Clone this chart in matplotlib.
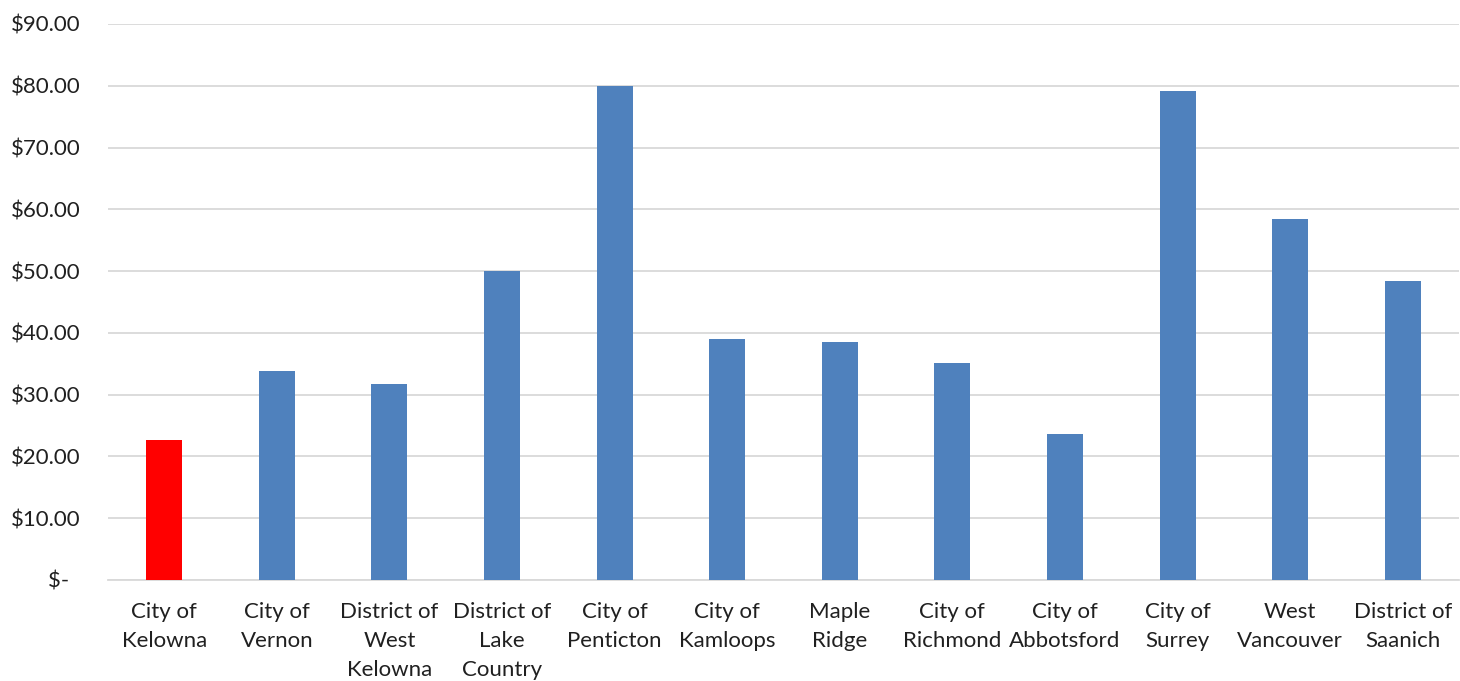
import numpy as np
import matplotlib.pyplot as plt
from matplotlib.ticker import FuncFormatter

plt.rcParams['font.family'] = ['Lato', 'DejaVu Sans']

# data
places = ['City of\nKelowna', 'City of\nVernon', 'District of\nWest\nKelowna',
          'District of\nLake\nCountry', 'City of\nPenticton', 'City of\nKamloops',
          'Maple\nRidge', 'City of\nRichmond', 'City of\nAbbotsford',
          'City of\nSurrey', 'West\nVancouver', 'District of\nSaanich']
cost = [22.7, 33.9, 31.7, 50.0, 80.0, 39.0, 38.5, 35.1, 23.6, 79.1, 58.4, 48.4]
highlight = 'City of\nKelowna'

colors = ['#FF0000' if p == highlight else '#4F81BD' for p in places]

fig = plt.figure(figsize=(14.6, 6.81), dpi=100)
ax = fig.add_axes([108/1460, 1 - 580/681, 1351/1460, 556/681])

x = np.arange(len(places))
ax.bar(x, cost, width=0.32, color=colors, zorder=3)

ax.set_xlim(-0.5, len(places) - 0.5)
ax.set_ylim(0, 90)
ax.set_yticks(np.arange(0, 91, 10))

def money(v, pos):
    if v == 0:
        return '$-  '
    return '${:.2f}'.format(v)

ax.yaxis.set_major_formatter(FuncFormatter(money))
ax.grid(axis='y', color='#D9D9D9', linewidth=1.3, zorder=0)
ax.set_xticks(x)
ax.set_xticklabels(places, fontsize=16, color='#202020', linespacing=1.55)
ax.tick_params(axis='y', labelsize=16, labelcolor='#202020', length=0, pad=20)
ax.tick_params(axis='x', length=0, pad=16)
for s in ['top', 'right', 'left']:
    ax.spines[s].set_visible(False)
ax.spines['bottom'].set_color('#D9D9D9')
ax.spines['bottom'].set_linewidth(1.3)

fig.savefig('out.png', dpi=100)
